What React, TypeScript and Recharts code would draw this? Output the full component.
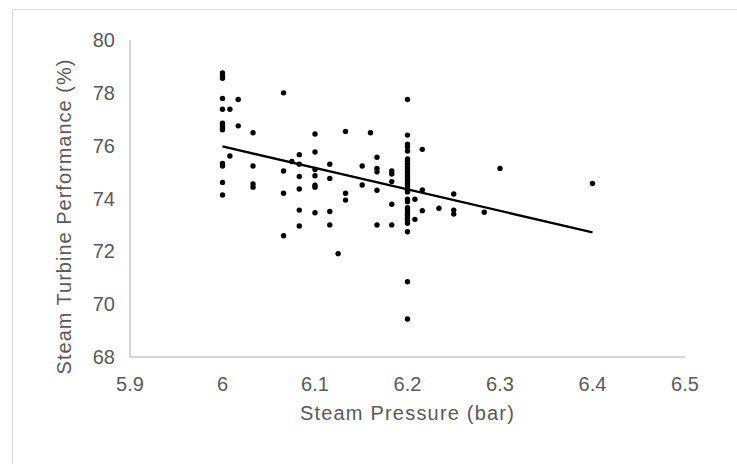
import { ScatterChart, Scatter, XAxis, YAxis } from 'recharts';

// steam pressure (bar) and turbine performance (%)
const pressure = [
  6, 6, 6, 6, 6, 6, 6, 6, 6, 6, 6, 6, 6,
  6.008, 6.008,
  6.017, 6.017,
  6.033, 6.033, 6.033, 6.033,
  6.066, 6.066, 6.066, 6.066,
  6.075,
  6.083, 6.083, 6.083, 6.083, 6.083, 6.083,
  6.1, 6.1, 6.1, 6.1, 6.1, 6.1, 6.1,
  6.116, 6.116, 6.116, 6.116,
  6.125,
  6.133, 6.133, 6.133,
  6.151, 6.151,
  6.16,
  6.167, 6.167, 6.167, 6.167, 6.167,
  6.183, 6.183, 6.183, 6.183, 6.183,
  6.2, 6.2, 6.2, 6.2, 6.2,
  6.2, 6.2, 6.2, 6.2, 6.2, 6.2, 6.2, 6.2, 6.2, 6.2, 6.2, 6.2, 6.2, 6.2,
  6.2, 6.2, 6.2, 6.2, 6.2, 6.2, 6.2, 6.2, 6.2, 6.2, 6.2, 6.2,
  6.208, 6.208,
  6.216, 6.216, 6.216,
  6.234,
  6.25, 6.25, 6.25,
  6.283,
  6.3,
  6.4,
];

const performance = [
  78.75, 78.65, 78.55, 77.79, 77.38, 76.85, 76.75, 76.67, 76.6, 75.33, 75.23, 74.61, 74.13,
  77.38, 75.61,
  77.75, 76.75,
  76.49, 75.23, 74.55, 74.43,
  78.0, 75.04, 74.2, 72.59,
  75.4,
  75.66, 75.3, 74.83, 74.36, 73.56, 72.96,
  76.44, 75.76, 75.1, 74.86, 74.5, 74.43, 73.46,
  75.3, 74.76, 73.51, 73.0,
  71.91,
  76.54, 74.2, 73.94,
  75.23, 74.51,
  76.49,
  75.56, 75.14, 75.01, 74.31, 73.0,
  75.04, 74.93, 74.64, 73.78, 73.0,
  77.75, 76.4, 76.06, 75.96, 75.8,
  75.5, 75.4, 75.3, 75.2, 75.1, 75.0, 74.9, 74.8, 74.7, 74.6, 74.5, 74.4, 74.3, 74.25,
  73.97, 73.88, 73.65, 73.56, 73.46, 73.37, 73.27, 73.18, 73.06, 72.74, 70.85, 69.44,
  73.97, 73.21,
  75.86, 74.32, 73.54,
  73.63,
  74.17, 73.56, 73.41,
  73.48,
  75.14,
  74.57,
];

// linear trendline end points
const trendX = [6, 6.4];
const trendY = [75.97, 72.72];

const xTicks = [5.9, 6, 6.1, 6.2, 6.3, 6.4, 6.5];
const yTicks = [68, 70, 72, 74, 76, 78, 80];

const points = pressure.map((x, i) => ({ x, y: performance[i] }));
const trend = trendX.map((x, i) => ({ x, y: trendY[i] }));

const FONT = '"Liberation Sans", Arial, sans-serif';
const TEXT = '#595959';
const AXIS = '#c6c6c6';

function Dot(props: { cx?: number; cy?: number }) {
  const { cx, cy } = props;
  if (cx == null || cy == null) return null;
  return <circle cx={cx} cy={cy} r={2.7} fill="#000" />;
}

function YTitle(props: { viewBox?: { x: number; y: number; width: number; height: number } }) {
  const vb = props.viewBox;
  if (!vb) return null;
  const cx = vb.x + 1;
  const cy = vb.y + vb.height / 2 + 18;
  return (
    <text x={cx} y={cy} transform={`rotate(-90 ${cx} ${cy})`} textAnchor="middle"
      fill={TEXT} fontSize={20} fontFamily={FONT} letterSpacing={1}>
      Steam Turbine Performance (%)
    </text>
  );
}

export default function App() {
  return (
    <div style={{ position: 'absolute', left: 0, top: 0, width: 737, height: 464, overflow: 'hidden', background: '#fff' }}>
      <div style={{ position: 'absolute', left: 12, top: 9, width: 760, height: 480, border: '1px solid #d9d9d9', boxSizing: 'border-box' }} />
      <div style={{ position: 'absolute', left: 0, top: 0 }}>
        <ScatterChart width={737} height={464} margin={{ top: 40, right: 52, bottom: 37, left: 70 }}>
          <XAxis type="number" dataKey="x" domain={[5.9, 6.5]} ticks={xTicks} height={70}
            tickFormatter={v => String(v)} allowDataOverflow
            stroke={AXIS} strokeWidth={1.5} tickLine={false} tickMargin={14}
            tick={{ fill: TEXT, fontSize: 20, fontFamily: FONT }}
            label={{ value: 'Steam Pressure (bar)', position: 'insideBottom', offset: 7, fill: TEXT, fontSize: 20, fontFamily: FONT, letterSpacing: 1.2 }} />
          <YAxis type="number" dataKey="y" domain={[68, 80]} ticks={yTicks} width={60}
            stroke={AXIS} strokeWidth={1.5} tickLine={false} tickMargin={9}
            tick={{ fill: TEXT, fontSize: 20, fontFamily: FONT }}
            label={<YTitle />} />
          <Scatter data={points} shape={<Dot />} isAnimationActive={false} />
          <Scatter data={trend} line={{ stroke: '#000', strokeWidth: 2.3 }} shape={() => <g />} isAnimationActive={false} />
        </ScatterChart>
      </div>
    </div>
  );
}
